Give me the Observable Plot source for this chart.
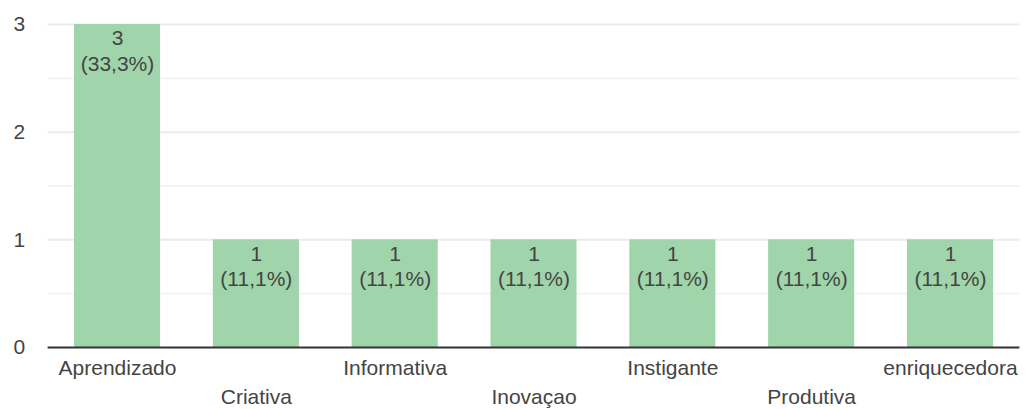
<!DOCTYPE html>
<html>
<head>
<meta charset="utf-8">
<script src="https://cdn.jsdelivr.net/npm/d3@7"></script>
<script src="https://cdn.jsdelivr.net/npm/@observablehq/plot@0.6"></script>
<style>
  html, body { margin: 0; padding: 0; background: #fff; }
  #chart svg { display: block; }
</style>
</head>
<body>
<div id="chart"></div>
<script>
const categories = ["Aprendizado", "Criativa", "Informativa", "Inovaçao", "Instigante", "Produtiva", "enriquecedora"];
const counts = [3, 1, 1, 1, 1, 1, 1];
const percents = ["33,3%", "11,1%", "11,1%", "11,1%", "11,1%", "11,1%", "11,1%"];
const yTicks = [0, 1, 2, 3];
const minorTicks = [0.5, 1.5, 2.5];

const data = categories.map((c, i) => ({cat: c, value: counts[i], label: `${counts[i]}\n(${percents[i]})`}));
const evenCats = categories.filter((_, i) => i % 2 === 0);
const oddCats = categories.filter((_, i) => i % 2 === 1);

const FS = 21;
const chart = Plot.plot({
  width: 1026,
  height: 409,
  marginLeft: 47.6,
  marginRight: 6.6,
  marginTop: 24,
  marginBottom: 62,
  style: {fontFamily: "Arial, 'Liberation Sans', sans-serif", fontSize: FS + "px", color: "#444", background: "#fff"},
  x: {domain: categories, paddingInner: 0.38, paddingOuter: 0.19, round: false},
  y: {domain: [0, 3]},
  marks: [
    Plot.ruleY(minorTicks, {stroke: "#f4f4f4", strokeWidth: 2}),
    Plot.ruleY(yTicks.filter(d => d > 0), {stroke: "#ebebeb", strokeWidth: 2}),
    Plot.barY(data, {x: "cat", y: "value", fill: "#a0d4aa"}),
    Plot.ruleY([0], {stroke: "#333", strokeWidth: 2}),
    Plot.text(data, {x: "cat", y: "value", text: "label", lineAnchor: "top", dy: 3, lineHeight: 1.2, fill: "#444", fontSize: FS}),
    Plot.axisY({ticks: yTicks, tickFormat: d3.format("d"), tickSize: 0, tickPadding: 23, label: null, fontSize: FS, fill: "#444"}),
    Plot.axisX({ticks: evenCats, tickSize: 0, tickPadding: 13, label: null, fontSize: FS, fill: "#444"}),
    Plot.axisX({ticks: oddCats, tickSize: 0, tickPadding: 42, label: null, fontSize: FS, fill: "#444"})
  ]
});
document.getElementById("chart").appendChild(chart);
</script>
</body>
</html>
